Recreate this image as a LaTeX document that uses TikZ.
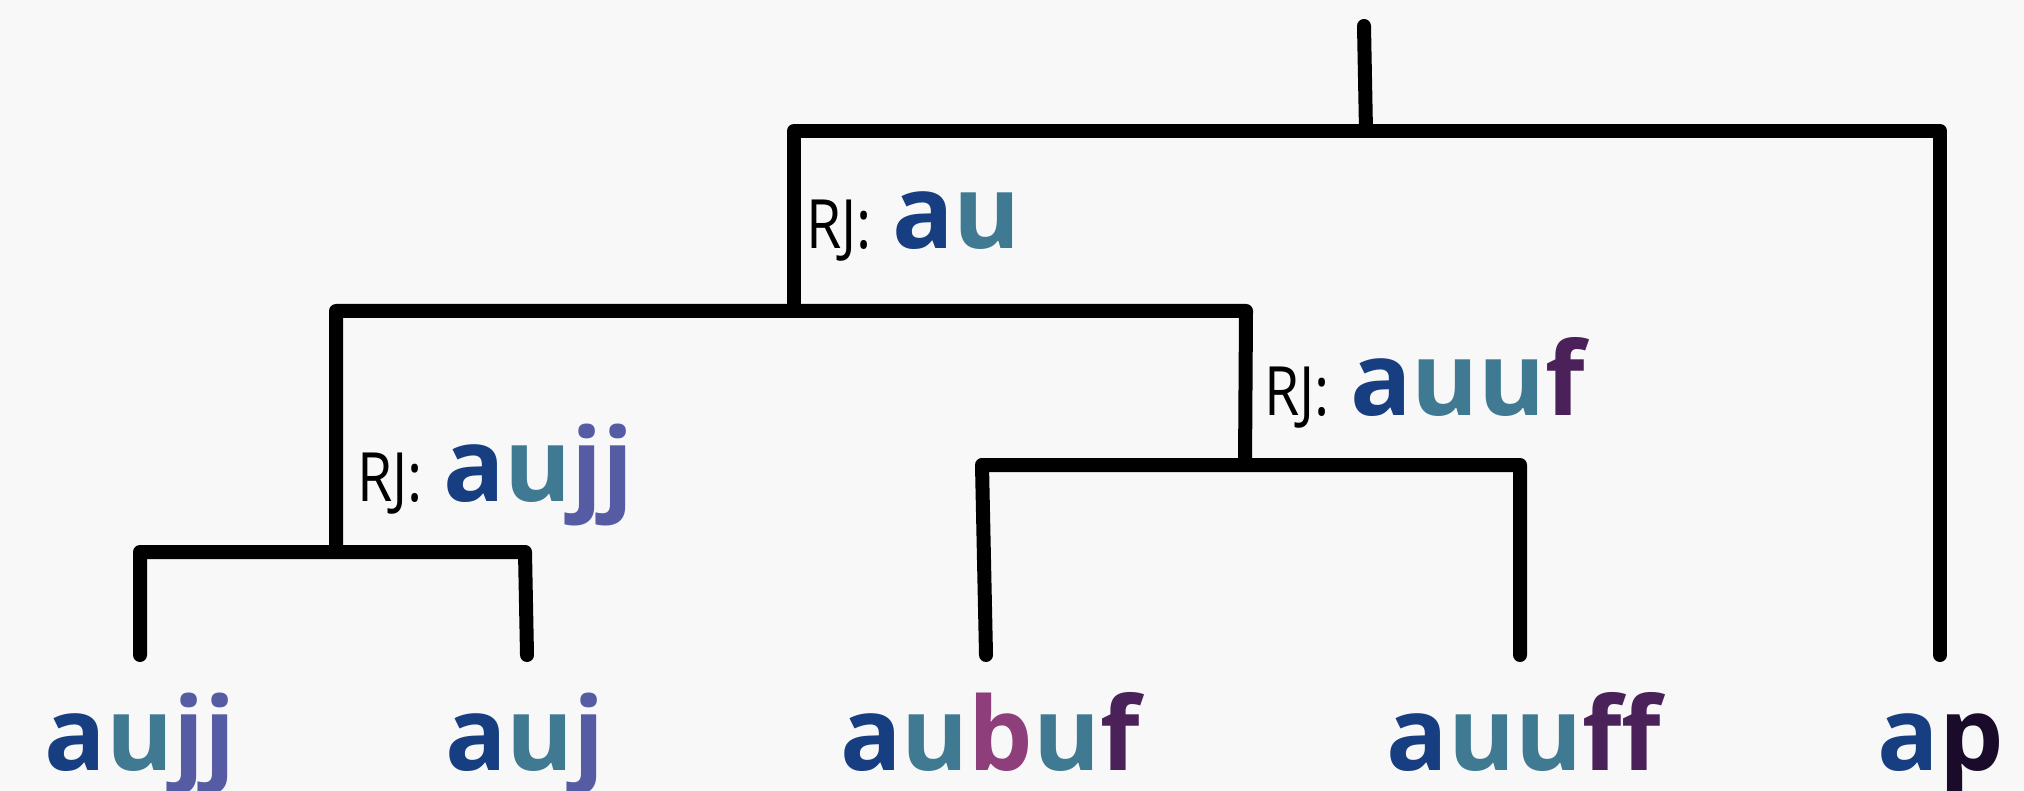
\documentclass[tikz,border=0pt]{standalone}
\usepackage{fontspec}
\setmainfont{Open Sans}
\newfontfamily\rjfont{Open Sans}[FakeStretch=0.84]

\definecolor{bgcol}{RGB}{248,248,249}
\definecolor{ca}{RGB}{23,62,128}
\definecolor{cu}{RGB}{63,122,146}
\definecolor{cj}{RGB}{86,92,164}
\definecolor{cb}{RGB}{142,63,123}
\definecolor{cf}{RGB}{75,33,89}
\definecolor{cp}{RGB}{27,11,43}

\newcommand{\lta}{\textcolor{ca}{a}}
\newcommand{\ltu}{\textcolor{cu}{u}}
\newcommand{\ltj}{\textcolor{cj}{j}}
\newcommand{\ltb}{\textcolor{cb}{b}}
\newcommand{\ltf}{\textcolor{cf}{f}}
\newcommand{\ltp}{\textcolor{cp}{p}}
\newcommand{\bigseq}[1]{{\bfseries\fontsize{51}{58}\selectfont #1}}

\tikzset{
    branch/.style={line width=7pt, line cap=round, line join=round},
    leaf/.style={anchor=base, inner sep=0pt, font=\bfseries\fontsize{51}{58}\selectfont},
    rj/.style={anchor=base west, inner sep=0pt, font=\fontsize{34}{40}\selectfont}
}

\begin{document}
\begin{tikzpicture}[x=0.5pt, y=-0.5pt]
        \fill[bgcol] (0,0) rectangle (2024,791);
        \useasboundingbox (0,0) rectangle (2024,791);

        % Corners of the merge brackets
        \coordinate (root) at (1364,26);
        \coordinate (C1l) at (794,131);  \coordinate (C1m) at (1366,131); \coordinate (C1r) at (1940,131);
        \coordinate (C2l) at (336,311);  \coordinate (C2m) at (794,311);  \coordinate (C2r) at (1246,311);
        \coordinate (C3l) at (140,552);  \coordinate (C3m) at (336,552);  \coordinate (C3r) at (525,552);
        \coordinate (C4l) at (982,465);  \coordinate (C4m) at (1245,465); \coordinate (C4r) at (1520,465);

        % Leaf tips (5 words)
        \coordinate (T1) at (140,655);
        \coordinate (T2) at (527,655);
        \coordinate (T3) at (986,655);
        \coordinate (T4) at (1520,655);
        \coordinate (T5) at (1940,655);

        % Brackets
        \draw[branch] (root) -- (C1m);
        \draw[branch] (C2m) -- (C1l) -- (C1r) -- (T5);
        \draw[branch] (C3m) -- (C2l) -- (C2r) -- (C4m);
        \draw[branch] (T1) -- (C3l) -- (C3r) -- (T2);
        \draw[branch] (T3) -- (C4l) -- (C4r) -- (T4);

        % Words at the leaves
        \node[leaf] (L1) at (140,770) {\lta\ltu\ltj\ltj};
        \node[leaf] (L2) at (525,770) {\lta\ltu\ltj};
        \node[leaf] (L3) at (990,770) {\lta\ltu\ltb\ltu\ltf};
        \node[leaf] (L4) at (1524,770) {\lta\ltu\ltu\ltf\ltf};
        \node[leaf] (L5) at (1941,770) {\lta\ltp};

        % Labels of the inner merges
        \node[rj] (R1) at (806,249) {{\rjfont RJ:}\hspace{10pt}\bigseq{\lta\ltu}};
        \node[rj] (R2) at (1264,415) {{\rjfont RJ:}\hspace{10pt}\bigseq{\lta\ltu\ltu\ltf}};
        \node[rj] (R3) at (357,501) {{\rjfont RJ:}\hspace{10pt}\bigseq{\lta\ltu\ltj\ltj}};
    \end{tikzpicture}
\end{document}
